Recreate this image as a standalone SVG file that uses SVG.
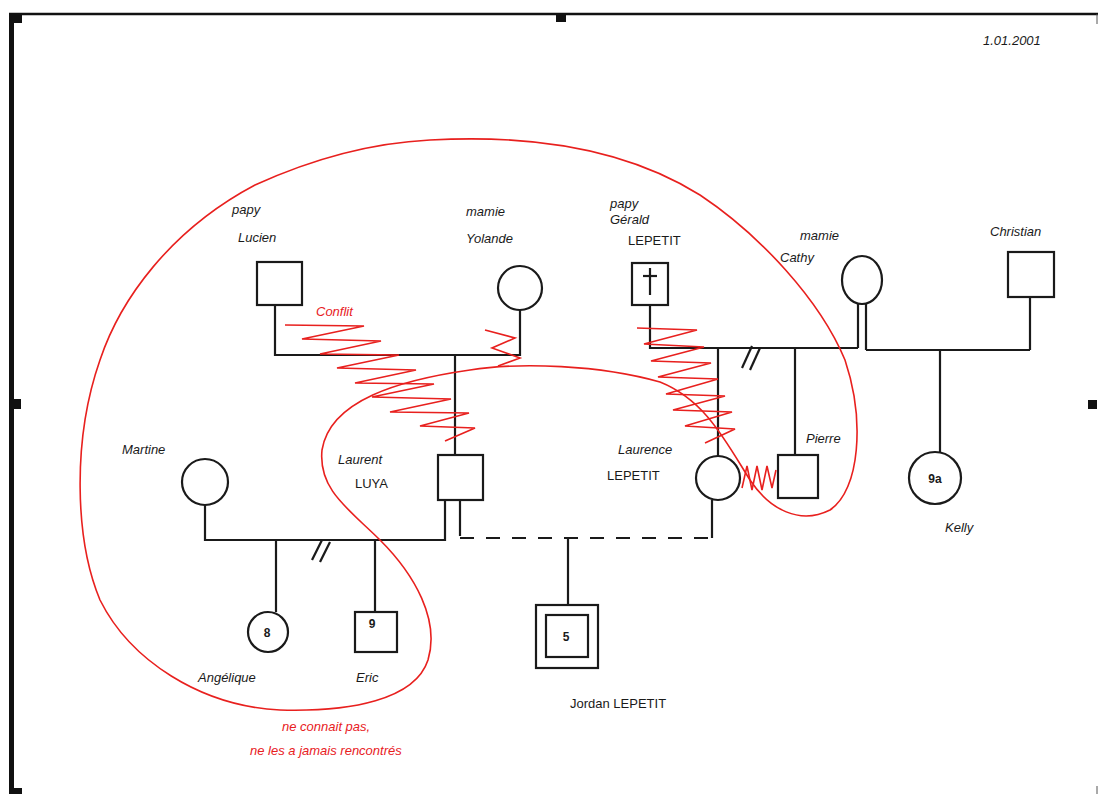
<svg xmlns="http://www.w3.org/2000/svg" width="1099" height="794" viewBox="0 0 1099 794">
<style>
.ln{stroke:#1a1a1a;stroke-width:2.2;fill:none}
.sh{stroke:#1a1a1a;stroke-width:2.2;fill:#fff}
.t{font-family:"Liberation Sans",Arial,sans-serif;font-size:13px;fill:#1a1a1a;font-style:italic}
.c{font-family:"Liberation Sans",Arial,sans-serif;font-size:13px;fill:#1a1a1a}
.n{font-family:"Liberation Sans",Arial,sans-serif;font-size:12px;fill:#1a1a1a;text-anchor:middle;font-weight:bold}
.r{stroke:#e8201e;stroke-width:1.6;fill:none}
.rt{font-family:"Liberation Sans",Arial,sans-serif;font-size:13px;fill:#e8201e;font-style:italic}
</style>
<rect width="1099" height="794" fill="#fff"/>
<g id="frame">
<line x1="9" y1="14" x2="1098" y2="14" stroke="#111" stroke-width="2.5"/>
<line x1="11.5" y1="14" x2="11.5" y2="794" stroke="#111" stroke-width="5"/>
<line x1="1097" y1="14" x2="1097" y2="24" stroke="#555" stroke-width="1"/>
<line x1="1097" y1="786" x2="1097" y2="794" stroke="#555" stroke-width="1"/>
<rect x="12" y="14" width="10" height="9" fill="#111"/>
<rect x="556" y="14" width="10" height="8" fill="#111"/>
<rect x="12" y="399" width="9" height="10" fill="#111"/>
<rect x="1088" y="400" width="9" height="9" fill="#111"/>
<rect x="13" y="788" width="9" height="6" fill="#111"/>
</g>
<text class="t" x="983" y="45">1.01.2001</text>
<g id="connectors">
<polyline class="ln" points="275,305 275,355 520,355 520,310"/>
<line class="ln" x1="455" y1="355" x2="455" y2="455"/>
<polyline class="ln" points="205,505 205,540 445,540 445,500"/>
<line class="ln" x1="312" y1="560" x2="322" y2="540"/>
<line class="ln" x1="320" y1="562" x2="330" y2="542"/>
<line class="ln" x1="276" y1="540" x2="276" y2="612"/>
<line class="ln" x1="375" y1="540" x2="375" y2="612"/>
<line class="ln" x1="460" y1="500" x2="460" y2="536"/>
<line class="ln" x1="460" y1="538" x2="712" y2="538" stroke-dasharray="14,12"/>
<line class="ln" x1="712" y1="500" x2="712" y2="538"/>
<line class="ln" x1="568" y1="538" x2="568" y2="605"/>
<polyline class="ln" points="650,305 650,348 858,348"/>
<line class="ln" x1="858" y1="303" x2="858" y2="348"/>
<line class="ln" x1="866" y1="303" x2="866" y2="350"/>
<line class="ln" x1="866" y1="350" x2="1030" y2="350"/>
<line class="ln" x1="1030" y1="297" x2="1030" y2="350"/>
<line class="ln" x1="742" y1="368" x2="752" y2="346"/>
<line class="ln" x1="750" y1="370" x2="760" y2="348"/>
<line class="ln" x1="718" y1="348" x2="718" y2="456"/>
<line class="ln" x1="795" y1="348" x2="795" y2="455"/>
<line class="ln" x1="940" y1="350" x2="940" y2="452"/>
</g>
<g id="lucien">
<rect class="sh" x="257" y="262" width="45" height="43"/>
<text class="t" x="232" y="214">papy</text>
<text class="t" x="238" y="242">Lucien</text>
</g>
<g id="yolande">
<circle class="sh" cx="520" cy="288" r="22"/>
<text class="t" x="466" y="216">mamie</text>
<text class="t" x="466" y="243">Yolande</text>
</g>
<g id="gerald">
<rect class="sh" x="632" y="263" width="36" height="42"/>
<line class="ln" x1="650" y1="268" x2="650" y2="295" stroke-width="1.5"/>
<line class="ln" x1="643" y1="276" x2="657" y2="276" stroke-width="1.5"/>
<text class="t" x="610" y="208">papy</text>
<text class="t" x="610" y="224">Gérald</text>
<text class="c" x="628" y="245">LEPETIT</text>
</g>
<g id="cathy">
<ellipse class="sh" cx="862" cy="280" rx="20" ry="24"/>
<text class="t" x="800" y="240">mamie</text>
<text class="t" x="780" y="262">Cathy</text>
</g>
<g id="christian">
<rect class="sh" x="1008" y="252" width="46" height="45"/>
<text class="t" x="990" y="236">Christian</text>
</g>
<g id="martine">
<circle class="sh" cx="205" cy="482" r="23"/>
<text class="t" x="122" y="454">Martine</text>
</g>
<g id="laurent">
<rect class="sh" x="438" y="455" width="45" height="45"/>
<text class="t" x="338" y="464">Laurent</text>
<text class="c" x="355" y="488">LUYA</text>
</g>
<g id="laurence">
<circle class="sh" cx="718" cy="478" r="22"/>
<text class="t" x="618" y="454">Laurence</text>
<text class="c" x="607" y="480">LEPETIT</text>
</g>
<g id="pierre">
<rect class="sh" x="778" y="455" width="40" height="43"/>
<text class="t" x="806" y="443">Pierre</text>
</g>
<g id="kelly">
<circle class="sh" cx="935" cy="478" r="26"/>
<text class="n" x="935" y="483">9a</text>
<text class="t" x="945" y="532">Kelly</text>
</g>
<g id="angelique">
<circle class="sh" cx="268" cy="632" r="20"/>
<text class="n" x="267" y="637">8</text>
<text class="t" x="198" y="682">Angélique</text>
</g>
<g id="eric">
<rect class="sh" x="355" y="612" width="42" height="40"/>
<text class="n" x="372" y="628">9</text>
<text class="t" x="356" y="682">Eric</text>
</g>
<g id="jordan">
<rect class="sh" x="536" y="605" width="62" height="63"/>
<rect class="sh" x="546" y="615" width="42" height="42"/>
<text class="n" x="566" y="641">5</text>
<text class="c" x="570" y="708">Jordan LEPETIT</text>
</g>
<g id="annotations">
<path class="r" d="M430,140 C520,135 620,145 700,195 C760,235 820,300 845,360 C865,420 860,490 830,510 C800,525 770,510 750,480 C725,440 705,400 660,382 C600,365 520,362 470,370 C400,380 330,400 322,450 C318,490 350,510 380,540 C415,575 440,620 428,660 C415,700 350,712 280,710 C200,706 130,660 100,600 C75,540 72,440 100,360 C120,300 170,230 255,185 C310,160 370,143 430,140 Z"/>
<polyline class="r" points="285,325 364,326 302,339 381,341 320,354 399,355 337,368 416,370 355,383 434,384 372,397 451,399 390,412 469,413 420,426 475,428 445,441"/>
<polyline class="r" points="485,330 515,338 492,348 520,358 498,366"/>
<polyline class="r" points="637,328 697,330 644,344 704,347 651,361 711,363 658,377 718,379 666,394 725,396 673,410 732,412 685,426 735,429 705,443"/>
<polyline class="r" points="742,488 747,466 752,490 757,466 762,490 767,466 772,488 776,470"/>
<text class="rt" x="316" y="316">Conflit</text>
<text class="rt" x="282" y="731">ne connait pas,</text>
<text class="rt" x="250" y="755">ne les a jamais rencontrés</text>
</g>
</svg>
